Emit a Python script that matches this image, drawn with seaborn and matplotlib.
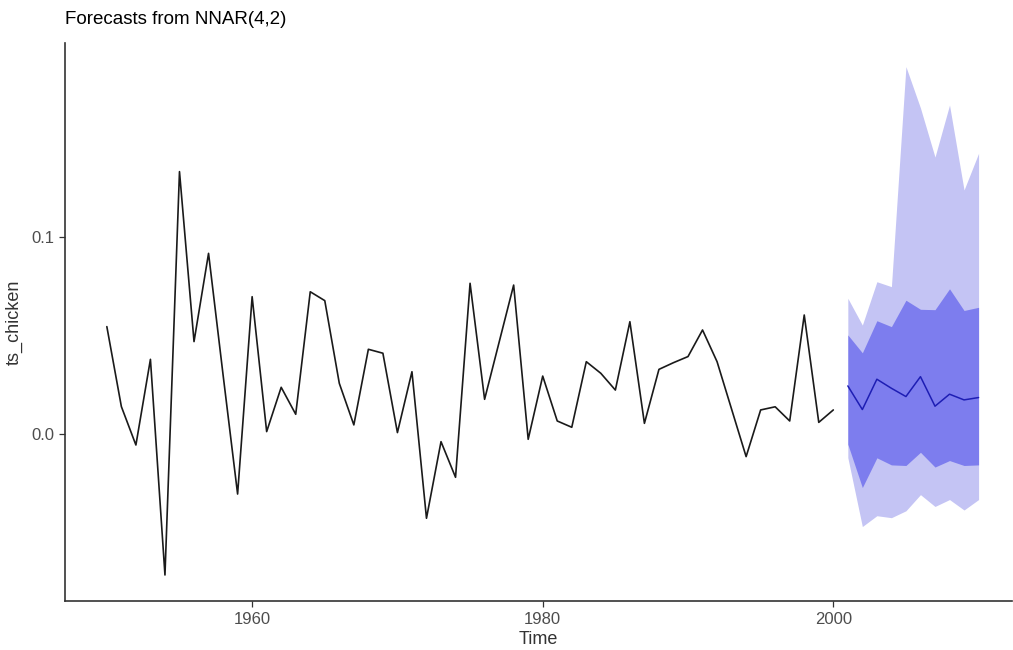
import numpy as np
import pandas as pd
import matplotlib
matplotlib.use("Agg")
import matplotlib.pyplot as plt
import seaborn as sns

# Observed series, 1950-2000
years = list(range(1950, 2001))
ts_chicken = [
    0.0545, 0.0139, -0.0056, 0.0379, -0.0716, 0.1332, 0.0469, 0.0917, 0.0300, -0.0305,
    0.0697, 0.0012, 0.0237, 0.0100, 0.0722, 0.0677, 0.0257, 0.0046, 0.0430, 0.0410,
    0.0007, 0.0316, -0.0428, -0.0039, -0.0220, 0.0765, 0.0176, 0.0466, 0.0756, -0.0027,
    0.0294, 0.0066, 0.0034, 0.0367, 0.0308, 0.0223, 0.0570, 0.0054, 0.0328, 0.0362,
    0.0393, 0.0528, 0.0367, 0.0126, -0.0115, 0.0122, 0.0138, 0.0066, 0.0604, 0.0059,
    0.0122,
]

# NNAR(4,2) forecasts, 2001-2010, with 80% and 95% intervals
fc_years = list(range(2001, 2011))
fc_mean = [0.0244, 0.0124, 0.0278, 0.0232, 0.0190, 0.0291, 0.0141, 0.0202, 0.0173, 0.0185]
lo80 = [-0.0052, -0.0272, -0.0121, -0.0157, -0.0160, -0.0093, -0.0168, -0.0135, -0.0160, -0.0157]
hi80 = [0.0503, 0.0412, 0.0575, 0.0545, 0.0679, 0.0633, 0.0631, 0.0737, 0.0627, 0.0643]
lo95 = [-0.0120, -0.0470, -0.0415, -0.0425, -0.0390, -0.0308, -0.0368, -0.0333, -0.0386, -0.0333]
hi95 = [0.0689, 0.0553, 0.0773, 0.0748, 0.1865, 0.1655, 0.1406, 0.1670, 0.1239, 0.1425]

hist = pd.DataFrame({"Time": years, "ts_chicken": ts_chicken})
fc = pd.DataFrame({"Time": fc_years, "mean": fc_mean,
                   "lo80": lo80, "hi80": hi80, "lo95": lo95, "hi95": hi95})

sns.set_theme(style="white")
plt.rcParams["font.family"] = ["Liberation Sans", "DejaVu Sans"]

fig = plt.figure(figsize=(10.13, 6.5), dpi=100)
ax = fig.add_axes([65 / 1013, 49 / 650, (1012 - 65) / 1013, (601 - 43) / 650])

ax.fill_between(fc["Time"], fc["lo95"], fc["hi95"], color="#C4C4F4", linewidth=0)
ax.fill_between(fc["Time"], fc["lo80"], fc["hi80"], color="#7D7DEE", linewidth=0)
sns.lineplot(data=hist, x="Time", y="ts_chicken", ax=ax, color="#1a1a1a", linewidth=1.2)
sns.lineplot(data=fc, x="Time", y="mean", ax=ax, color="#1E1EB4", linewidth=1.1)

ax.set_xlim(1947.12, 2012.3)
ax.set_ylim(-0.0848, 0.1985)
ax.set_xticks([1960, 1980, 2000])
ax.set_yticks([0.0, 0.1])
ax.set_yticklabels(["0.0", "0.1"])

for side in ["top", "right"]:
    ax.spines[side].set_visible(False)
for side in ["left", "bottom"]:
    ax.spines[side].set_color("#333333")
    ax.spines[side].set_linewidth(1.2)

ax.tick_params(axis="both", which="major", length=4, width=0.9, color="#333333",
               labelsize=12, labelcolor="#4D4D4D", bottom=True, left=True, pad=4)

ax.set_xlabel("Time", fontsize=13, color="#333333", labelpad=3)
ax.set_ylabel("ts_chicken", fontsize=13, color="#333333", labelpad=6)
ax.set_title("Forecasts from NNAR(4,2)", loc="left", fontsize=13.5, color="black", pad=14)

fig.savefig("out.png", dpi=100)
